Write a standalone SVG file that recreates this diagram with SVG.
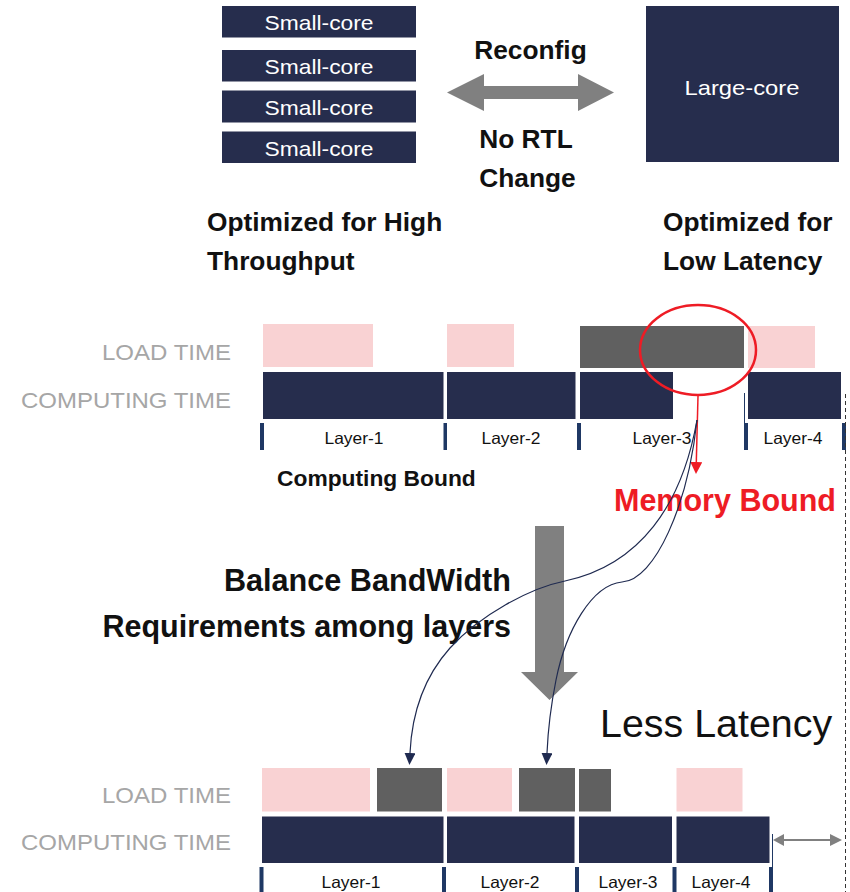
<svg xmlns="http://www.w3.org/2000/svg" width="850" height="892" viewBox="0 0 850 892">
<style>
text{font-family:"Liberation Sans",Arial,sans-serif}
.core{fill:#262d4d}
.wt{fill:#fff;font-size:21px}
.b{font-weight:bold;fill:#111}
.lbl{fill:#a6a6a6;font-size:22.5px}
.lay{fill:#111;font-size:16.5px}
.pink{fill:#f9d2d3}
.dark{fill:#606060}
.comp{fill:#262d4d}
.tick{fill:#1f3864}
.curve{fill:none;stroke:#1f2a50;stroke-width:1.2;marker-end:url(#nav)}
</style>
<defs>
<marker id="nav" markerUnits="userSpaceOnUse" markerWidth="12" markerHeight="11" refX="0" refY="5.5" orient="auto" viewBox="0 0 12 11"><path d="M0,0 L12,5.5 L0,11 z" fill="#1f2a50"/></marker>
<marker id="red" markerUnits="userSpaceOnUse" markerWidth="12" markerHeight="12" refX="0" refY="6" orient="auto" viewBox="0 0 12 12"><path d="M0,0 L12,6 L0,12 z" fill="#ee1c25"/></marker>
</defs>

<g id="small-cores">
<rect class="core" x="222" y="6" width="194" height="31.5"/>
<text class="wt" x="319" y="30" text-anchor="middle" textLength="109" lengthAdjust="spacingAndGlyphs">Small-core</text>
<rect class="core" x="222" y="50" width="194" height="31.5"/>
<text class="wt" x="319" y="74" text-anchor="middle" textLength="109" lengthAdjust="spacingAndGlyphs">Small-core</text>
<rect class="core" x="222" y="90.5" width="194" height="32"/>
<text class="wt" x="319" y="114.5" text-anchor="middle" textLength="109" lengthAdjust="spacingAndGlyphs">Small-core</text>
<rect class="core" x="222" y="131.5" width="194" height="31.5"/>
<text class="wt" x="319" y="155.5" text-anchor="middle" textLength="109" lengthAdjust="spacingAndGlyphs">Small-core</text>
</g>

<g id="large-core">
<rect class="core" x="646" y="6" width="193" height="156"/>
<text class="wt" x="742" y="95" text-anchor="middle" font-size="22.5" textLength="115" lengthAdjust="spacingAndGlyphs">Large-core</text>
</g>

<g id="reconfig">
<polygon fill="#808080" points="447,92.5 484,74 484,86 578,86 578,74 614,92.5 578,111 578,99 484,99 484,111"/>
<text class="b" x="530.5" y="59" font-size="26.3" text-anchor="middle">Reconfig</text>
<text class="b" x="526" y="148" font-size="26.3" text-anchor="middle">No RTL</text>
<text class="b" x="527.5" y="187" font-size="26.3" text-anchor="middle">Change</text>
</g>

<g id="captions">
<text class="b" x="207" y="231" font-size="26.3">Optimized for High</text>
<text class="b" x="207" y="270" font-size="26.3">Throughput</text>
<text class="b" x="663" y="231" font-size="26.3">Optimized for</text>
<text class="b" x="663" y="270" font-size="26.3">Low Latency</text>
</g>

<g id="timeline-before">
<text class="lbl" x="231" y="360" text-anchor="end" textLength="129" lengthAdjust="spacingAndGlyphs">LOAD TIME</text>
<text class="lbl" x="231" y="408" text-anchor="end" textLength="210" lengthAdjust="spacingAndGlyphs">COMPUTING TIME</text>
<rect class="pink" x="263" y="324" width="110" height="43"/>
<rect class="pink" x="447" y="324" width="67" height="43"/>
<rect class="dark" x="580" y="326" width="164" height="42"/>
<rect class="pink" x="748" y="326" width="67" height="42"/>
<rect class="comp" x="263" y="372" width="180.5" height="47"/>
<rect class="comp" x="447" y="372" width="128.5" height="47"/>
<rect class="comp" x="580" y="372" width="93" height="47"/>
<rect class="comp" x="748" y="372" width="93" height="47"/>
<line x1="744.5" y1="393" x2="744.5" y2="424" stroke="#1f3864" stroke-width="1"/>
<rect class="tick" x="260" y="423" width="4" height="27"/>
<rect class="tick" x="443.5" y="423" width="3.5" height="27"/>
<rect class="tick" x="577" y="423" width="4" height="27"/>
<rect class="tick" x="744" y="423" width="4" height="27"/>
<rect class="tick" x="842" y="423" width="4" height="27"/>
<text class="lay" x="354" y="444" text-anchor="middle" textLength="59" lengthAdjust="spacingAndGlyphs">Layer-1</text>
<text class="lay" x="511" y="444" text-anchor="middle" textLength="59" lengthAdjust="spacingAndGlyphs">Layer-2</text>
<text class="lay" x="662" y="444" text-anchor="middle" textLength="59" lengthAdjust="spacingAndGlyphs">Layer-3</text>
<text class="lay" x="793" y="444" text-anchor="middle" textLength="59" lengthAdjust="spacingAndGlyphs">Layer-4</text>
<text class="b" x="277" y="486" font-size="22.8">Computing Bound</text>
<ellipse cx="698" cy="350" rx="58" ry="45" fill="none" stroke="#ee1c25" stroke-width="2.5"/>
<text x="614" y="511" font-size="30.5" font-weight="bold" fill="#ee1c25">Memory Bound</text>
</g>

<g id="balance">
<polygon fill="#808080" points="535,526 564,526 564,672 578,672 549.5,700 521,672 535,672"/>
<text class="b" x="511" y="591" font-size="30.6" text-anchor="end">Balance BandWidth</text>
<text class="b" x="511" y="637" font-size="30.5" text-anchor="end">Requirements among layers</text>
<text x="600" y="737" font-size="39.4" fill="#111">Less Latency</text>
</g>

<g id="timeline-after">
<text class="lbl" x="231" y="803" text-anchor="end" textLength="129" lengthAdjust="spacingAndGlyphs">LOAD TIME</text>
<text class="lbl" x="231" y="850" text-anchor="end" textLength="210" lengthAdjust="spacingAndGlyphs">COMPUTING TIME</text>
<rect class="pink" x="262" y="768" width="108" height="43.5"/>
<rect class="dark" x="377" y="768" width="65" height="43.5"/>
<rect class="pink" x="447" y="768" width="65" height="43.5"/>
<rect class="dark" x="519" y="768" width="56" height="43.5"/>
<rect class="dark" x="579" y="769" width="32" height="42.5"/>
<rect class="pink" x="676.5" y="768" width="66" height="43.5"/>
<rect class="comp" x="262" y="816.5" width="181.5" height="46.5"/>
<rect class="comp" x="447" y="816.5" width="127.5" height="46.5"/>
<rect class="comp" x="579" y="816.5" width="93" height="46.5"/>
<rect class="comp" x="676.5" y="816.5" width="93" height="46.5"/>
<line x1="772.5" y1="834" x2="772.5" y2="868" stroke="#1f3864" stroke-width="1"/>
<rect class="tick" x="259.5" y="867" width="4" height="25"/>
<rect class="tick" x="442" y="867" width="4" height="25"/>
<rect class="tick" x="575" y="867" width="4" height="25"/>
<rect class="tick" x="672.5" y="867" width="4" height="25"/>
<rect class="tick" x="769" y="867" width="4" height="25"/>
<text class="lay" x="351" y="888" text-anchor="middle" textLength="59" lengthAdjust="spacingAndGlyphs">Layer-1</text>
<text class="lay" x="510" y="888" text-anchor="middle" textLength="59" lengthAdjust="spacingAndGlyphs">Layer-2</text>
<text class="lay" x="628" y="888" text-anchor="middle" textLength="59" lengthAdjust="spacingAndGlyphs">Layer-3</text>
<text class="lay" x="721" y="888" text-anchor="middle" textLength="59" lengthAdjust="spacingAndGlyphs">Layer-4</text>
</g>

<g id="connectors">
<line x1="698" y1="396" x2="696.3" y2="462" stroke="#ee1c25" stroke-width="1.5" marker-end="url(#red)"/>
<path class="curve" d="M697 420 C682 505,640 565,565 581 C530 588,480 615,450 648 C425 676,412 710,410 753"/>
<path class="curve" d="M697 420 C688 505,655 580,622 582 C592 585,566 630,556 680 C551 705,548 730,547 753"/>
<line x1="845.5" y1="394" x2="845.5" y2="892" stroke="#333" stroke-width="1" stroke-dasharray="4,3"/>
<line x1="782" y1="840" x2="831" y2="840" stroke="#808080" stroke-width="2"/>
<polygon fill="#808080" points="773,840 784,834 784,846"/>
<polygon fill="#808080" points="842,840 830,834 830,846"/>
</g>
</svg>
